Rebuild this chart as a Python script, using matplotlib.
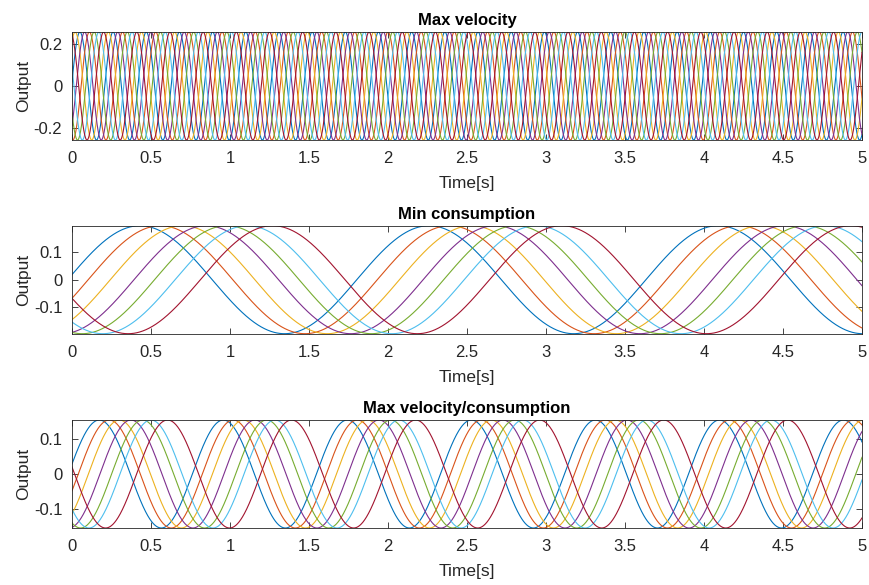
import numpy as np
import matplotlib.pyplot as plt

plt.rcParams['font.family'] = ['Liberation Sans', 'DejaVu Sans']

# MATLAB default line colours
colors = ['#0072BD', '#D95319', '#EDB120', '#7E2F8E', '#77AC30', '#4DBEEE', '#A2142F']

titles = ['Max velocity', 'Min consumption', 'Max velocity/consumption']
# oscillator amplitude and period for each gait
amplitudes = [0.26, 0.195, 0.155]
periods = [0.21, 1.83, 0.785]
# time of first peak for each of the 7 joints
peaks_vel = [0.05, 0.11, 0.02, 0.08, 0.14, 0.17, 0.20]
peaks_min = [0.43, 0.56, 0.70, 0.85, 0.98, 1.11, 1.27]
peaks_mix = [0.173, 0.236, 0.30, 0.373, 0.447, 0.50, 0.605]
peak_times = [peaks_vel, peaks_min, peaks_mix]
yticks = [[-0.2, 0, 0.2], [-0.1, 0, 0.1], [-0.1, 0, 0.1]]
xticks = [0, 0.5, 1, 1.5, 2, 2.5, 3, 3.5, 4, 4.5, 5]

t = np.linspace(0, 5, 4000)

fig = plt.figure(figsize=(8.7, 5.85), dpi=100)
tops = [32, 225.7, 420]
H = 108
for i in range(3):
    ax = fig.add_axes([72 / 870, 1 - (tops[i] + H) / 585, 790 / 870, H / 585])
    A, P = amplitudes[i], periods[i]
    for k, tp in enumerate(peak_times[i]):
        y = A * np.cos(2 * np.pi * (t - tp) / P)
        ax.plot(t, y, color=colors[k], lw=0.8)
    ax.set_xlim(0, 5)
    ax.set_ylim(-A, A)
    ax.set_xticks(xticks)
    ax.set_xticklabels(['%g' % v for v in xticks])
    ax.set_yticks(yticks[i])
    ax.set_yticklabels(['%g' % v for v in yticks[i]])
    ax.tick_params(direction='in', top=True, right=True, labelsize=12,
                   colors='#262626', length=4, width=0.6)
    ax.tick_params(axis='x', pad=8)
    ax.tick_params(axis='y', pad=7)
    for s in ax.spines.values():
        s.set_color('#262626')
        s.set_linewidth(0.6)
    ax.set_title(titles[i], fontsize=12, fontweight='bold', pad=5)
    ax.set_xlabel('Time[s]', fontsize=12.5, color='#262626', labelpad=7)
    ax.set_ylabel('Output', fontsize=12.5, color='#262626', labelpad=2)

fig.savefig('out.png', dpi=100)
